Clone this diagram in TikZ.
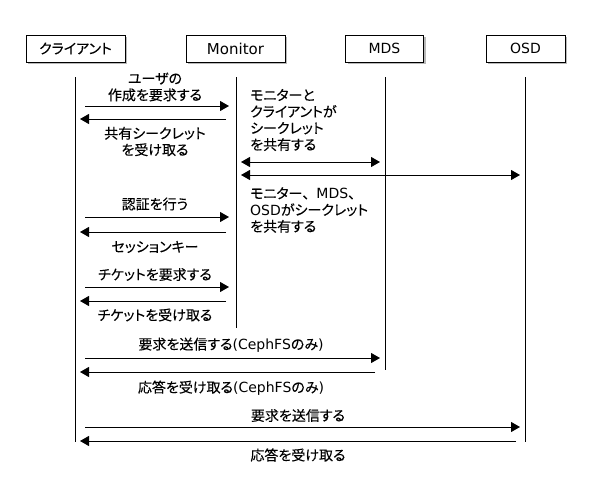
\documentclass[tikz,border=0pt]{standalone}
\usepackage{fontspec}
\setmainfont{Noto Sans CJK JP}[RawFeature=+palt, FakeBold=0.12]
\newfontfamily\fw{Noto Sans CJK JP}[FakeBold=0.12]
\newfontfamily\lat{DejaVu Sans}
\usetikzlibrary{arrows.meta,shadows}
\tikzset{
  txt/.style={font=\fontsize{14pt}{16.5pt}\selectfont, inner sep=0pt},
  actor/.style={txt, draw, line width=0.8pt, fill=white, minimum height=27pt,
    drop shadow={shadow xshift=2.2pt, shadow yshift=-2.2pt, fill=black!55}},
  lifeline/.style={line width=0.9pt},
  msg/.style={line width=0.9pt, -{Triangle[length=9pt,width=10pt]}},
  dmsg/.style={line width=0.9pt, {Triangle[length=9pt,width=10pt]}-{Triangle[length=9pt,width=10pt]}},
  note/.style={txt, align=left, anchor=west},
}
\newcommand\seqmsg[5][msg]{%
  \coordinate (#2s) at (#3,#5);
  \coordinate (#2e) at (#4,#5);
  \draw[#1] (#2s) -- (#2e);}
\begin{document}
\begin{tikzpicture}[x=1pt,y=-1pt]
\useasboundingbox (0,0) rectangle (590,490);
% actors
\node[actor, minimum width=99pt] (cl) at (75.5,48.5) {クライアント};
\node[actor, minimum width=99pt] (mon) at (235.5,48.5) {\fontsize{15pt}{18pt}\selectfont\lat Monitor};
\node[actor, minimum width=78pt] (mds) at (384.5,48.5) {\lat MDS};
\node[actor, minimum width=79pt] (osd) at (525.5,48.5) {\lat OSD};
% lifelines
\coordinate (clT) at (75,77);  \coordinate (clB) at (75,441.5);
\coordinate (monT) at (236,77); \coordinate (monB) at (236,328);
\coordinate (mdsT) at (385,77); \coordinate (mdsB) at (385,370);
\coordinate (osdT) at (525,77); \coordinate (osdB) at (525,441.5);
\draw[lifeline] (clT) -- (clB);
\draw[lifeline] (monT) -- (monB);
\draw[lifeline] (mdsT) -- (mdsB);
\draw[lifeline] (osdT) -- (osdB);
% messages client <-> monitor
\node[txt, align=center] (l1) at (155,87) {ユーザの\\作成を要求する};
\seqmsg{m1}{85}{229}{106}
\seqmsg{m2}{226}{80}{119}
\node[txt, align=center] (l2) at (155,141.5) {共有シークレット\\を受け取る};
% notes and shared secrets
\node[note] (n1) at (250,120) {モニターと\\クライアントが\\シークレット\\を共有する};
\seqmsg[dmsg]{d1}{241}{380}{162}
\seqmsg[dmsg]{d2}{241}{520}{175}
\node[note] (n2) at (250,210) {モニター{\fw 、}{\lat MDS}{\fw 、}\\{\lat OSD}がシークレット\\を共有する};
% authentication
\node[txt] (l3) at (155,204) {認証を行う};
\seqmsg{m3}{85}{229}{217}
\seqmsg{m4}{226}{80}{232}
\node[txt] (l4) at (155,247) {セッションキー};
\node[txt] (l5) at (155,274.5) {チケットを要求する};
\seqmsg{m5}{85}{229}{287}
\seqmsg{m6}{226}{80}{301}
\node[txt] (l6) at (155,315) {チケットを受け取る};
% MDS
\node[txt] (l7) at (231,345) {要求を送信する{\lat (CephFS}のみ{\lat )}};
\seqmsg{m7}{85}{380}{358}
\seqmsg{m8}{375}{80}{372}
\node[txt] (l8) at (231,388) {応答を受け取る{\lat (CephFS}のみ{\lat )}};
% OSD
\node[txt] (l9) at (298,415.5) {要求を送信する};
\seqmsg{m9}{85}{520}{427}
\seqmsg{m10}{516}{80}{441}
\node[txt] (l10) at (298,455) {応答を受け取る};
\end{tikzpicture}
\end{document}
